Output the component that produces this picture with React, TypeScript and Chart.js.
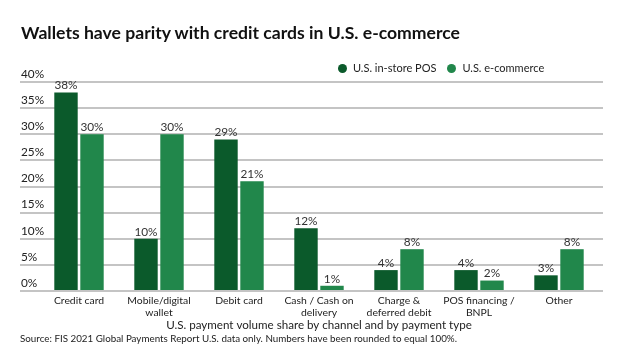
import React, { useEffect, useRef } from "react";
import { Chart, registerables } from "chart.js";

Chart.register(...registerables);

const TITLE = "Wallets have parity with credit cards in U.S. e-commerce";
const SOURCE = "Source: FIS 2021 Global Payments Report U.S. data only. Numbers have been rounded to equal 100%.";
const X_TITLE = "U.S. payment volume share by channel and by payment type";
const categories: string[][] = [
  ["Credit card"],
  ["Mobile/digital", "wallet"],
  ["Debit card"],
  ["Cash / Cash on", "delivery"],
  ["Charge &", "deferred debit"],
  ["POS financing /", "BNPL"],
  ["Other"],
];
const seriesNames = ["U.S. in-store POS", "U.S. e-commerce"];
const inStore = [38, 10, 29, 12, 4, 4, 3];
const eCommerce = [30, 30, 21, 1, 8, 2, 8];
const yTicks = [0, 5, 10, 15, 20, 25, 30, 35, 40];
const colors = ["#0b5a2b", "#21874b"];
const FONT = "Lato, 'Noto Sans', sans-serif";

const dataLabels = {
  id: "dataLabels",
  afterDatasetsDraw(chart: any) {
    const ctx = chart.ctx;
    ctx.save();
    ctx.font = `11.8px ${FONT}`;
    ctx.fillStyle = "#333333";
    ctx.textAlign = "center";
    ctx.textBaseline = "bottom";
    chart.data.datasets.forEach((ds: any, i: number) => {
      const meta = chart.getDatasetMeta(i);
      meta.data.forEach((el: any, j: number) => {
        ctx.fillText(ds.data[j] + "%", el.x, el.y - 1);
      });
    });
    ctx.restore();
  },
};

const yLabels = {
  id: "yLabels",
  afterDraw(chart: any) {
    const ctx = chart.ctx;
    const scale = chart.scales.y;
    ctx.save();
    ctx.font = `11.8px ${FONT}`;
    ctx.fillStyle = "#222222";
    ctx.textAlign = "left";
    ctx.textBaseline = "middle";
    yTicks.forEach((v) => {
      ctx.fillText(v + "%", scale.left + 1, scale.getPixelForValue(v) - 8);
    });
    ctx.restore();
  },
};

export default function App() {
  const ref = useRef<HTMLCanvasElement | null>(null);
  useEffect(() => {
    if (!ref.current) return;
    const chart = new Chart(ref.current, {
      type: "bar",
      data: {
        labels: categories,
        datasets: [
          { label: seriesNames[0], data: inStore, backgroundColor: colors[0], categoryPercentage: 0.65, barPercentage: 0.9 },
          { label: seriesNames[1], data: eCommerce, backgroundColor: colors[1], categoryPercentage: 0.65, barPercentage: 0.9 },
        ],
      },
      options: {
        animation: false,
        responsive: false,
        layout: { padding: { left: 20, right: 21, top: 82, bottom: 19 } },
        plugins: { legend: { display: false }, tooltip: { enabled: false } },
        scales: {
          x: {
            grid: { display: false, drawTicks: false },
            border: { display: false },
            ticks: { padding: 4, color: "#222222", font: { family: FONT, size: 10.4, lineHeight: 1.1 }, maxRotation: 0, autoSkip: false },
            title: { display: true, text: X_TITLE, color: "#222222", font: { family: FONT, size: 11.6 }, padding: { top: 0, bottom: 0 } },
            afterFit: (s: any) => { s.height = 41; },
          },
          y: {
            min: 0,
            max: 40,
            afterBuildTicks: (s: any) => { s.ticks = yTicks.map((v) => ({ value: v })); },
            grid: { color: "#c4c4c4", lineWidth: 2, drawTicks: true, tickLength: 19 },
            border: { display: false },
            ticks: { display: false },
            afterFit: (s: any) => { s.width = 19; },
          },
          y2: {
            position: "right",
            min: 0,
            max: 40,
            afterBuildTicks: (s: any) => { s.ticks = yTicks.map((v) => ({ value: v })); },
            grid: { color: "#c4c4c4", lineWidth: 2, drawOnChartArea: false, drawTicks: true, tickLength: 4 },
            border: { display: false },
            ticks: { display: false },
            afterFit: (s: any) => { s.width = 4; },
          },
        },
      },
      plugins: [dataLabels, yLabels],
    });
    return () => chart.destroy();
  }, []);

  const dot = (c: string) => (
    <span style={{ display: "inline-block", width: 9, height: 9, borderRadius: "50%", background: c, marginRight: 6, verticalAlign: "middle", position: "relative", top: -1 }} />
  );

  return (
    <div style={{ position: "fixed", left: 0, top: 0, width: 624, height: 351, background: "#ffffff", fontFamily: FONT, overflow: "hidden" }}>
      <canvas ref={ref} width={624} height={351} style={{ position: "absolute", left: 0, top: 0, width: 624, height: 351 }} />
      <div style={{ position: "absolute", left: 21, top: 21, fontSize: 17.6, fontWeight: 700, color: "#111111", whiteSpace: "nowrap", lineHeight: "24px" }}>{TITLE}</div>
      <div style={{ position: "absolute", left: 338, top: 59, fontSize: 11, color: "#222222", whiteSpace: "nowrap", lineHeight: "17px" }}>
        {dot(colors[0])}<span style={{ marginRight: 11 }}>{seriesNames[0]}</span>
        {dot(colors[1])}<span>{seriesNames[1]}</span>
      </div>
      <div style={{ position: "absolute", left: 20, top: 331, fontSize: 9.8, color: "#222222", whiteSpace: "nowrap", lineHeight: "14px" }}>{SOURCE}</div>
    </div>
  );
}
